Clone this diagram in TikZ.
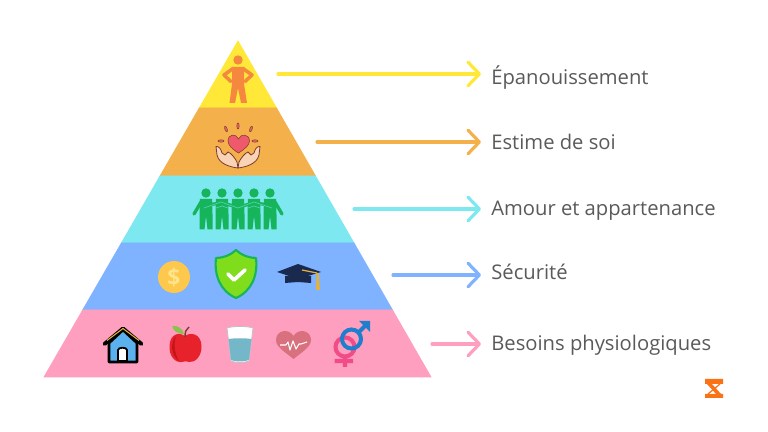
\documentclass[tikz,border=0pt]{standalone}
\usepackage{fontspec}
\setmainfont{Open Sans}
\usetikzlibrary{arrows.meta}
\definecolor{topyellow}{HTML}{FFE838}
\definecolor{esteemorange}{HTML}{F4B04A}
\definecolor{lovecyan}{HTML}{7DE8F0}
\definecolor{safeblue}{HTML}{7FB2FF}
\definecolor{needpink}{HTML}{FF9FC0}
\definecolor{labelgrey}{HTML}{5A5A5A}
\definecolor{manorange}{HTML}{F5873F}
\definecolor{heartred}{HTML}{EE5A6C}
\definecolor{skintone}{HTML}{F9D3B5}
\definecolor{outlinebrown}{HTML}{7A3B2E}
\definecolor{peoplegreen}{HTML}{16B55B}
\definecolor{coinyellow}{HTML}{FDC84B}
\definecolor{coinlight}{HTML}{FFE48A}
\definecolor{shieldgreen}{HTML}{7FDD1C}
\definecolor{capnavy}{HTML}{1A2A4F}
\definecolor{tasselgold}{HTML}{E3B23C}
\definecolor{roofblue}{HTML}{5BB0EE}
\definecolor{applered}{HTML}{E8222B}
\definecolor{applegreen}{HTML}{8CC152}
\definecolor{waterblue}{HTML}{74B7C9}
\definecolor{pulsered}{HTML}{D9707E}
\definecolor{femalepink}{HTML}{F24C88}
\definecolor{maleblue}{HTML}{1F7FCC}
\definecolor{brandorange}{HTML}{F97316}
\tikzset{
  levelarrow/.style={-{Straight Barb[length=6.5pt,width=13.5pt,round]}, line width=1.8pt, line cap=round, shorten >=5.7pt},
  levellabel/.style={anchor=base west, inner sep=0pt, text=labelgrey, font=\fontsize{11.5}{13}\selectfont},
  band/.style={draw=white, line width=0.4pt},
}
\begin{document}
\begin{tikzpicture}[x=0.02cm, y=-0.02cm]
\useasboundingbox (0,0) rectangle (768,432);
\fill[white] (0,0) rectangle (768,432);
% pyramid
\fill[band, topyellow] (238,41)--(276.5,108)--(199.3,108)--cycle;
\fill[band, esteemorange] (199.3,108)--(276.5,108)--(315.5,176)--(160,176)--cycle;
\fill[band, lovecyan] (160,176)--(315.5,176)--(354,243)--(121.4,243)--cycle;
\fill[band, safeblue] (121.4,243)--(354,243)--(392.5,310)--(82.7,310)--cycle;
\fill[band, needpink] (82.7,310)--(392.5,310)--(431,377)--(44,377)--cycle;
% labels and arrows
\node[levellabel] (epanouissement) at (491,85) {Épanouissement};
\node[levellabel] (estime) at (491,150) {Estime de soi};
\node[levellabel] (amour) at (491,215.5) {Amour et appartenance};
\node[levellabel] (securite) at (491,280) {Sécurité};
\node[levellabel] (besoins) at (491,351) {Besoins physiologiques};
\coordinate (startone) at (278,74);
\coordinate (starttwo) at (317,142);
\coordinate (startthree) at (354,209);
\coordinate (startfour) at (393,275);
\coordinate (startfive) at (432,344);
\draw[levelarrow, topyellow] (startone)--(startone -| epanouissement.west);
\draw[levelarrow, esteemorange] (starttwo)--(starttwo -| estime.west);
\draw[levelarrow, lovecyan] (startthree)--(startthree -| amour.west);
\draw[levelarrow, safeblue] (startfour)--(startfour -| securite.west);
\draw[levelarrow, needpink] (startfive)--(startfive -| besoins.west);
% standing man
\fill[manorange] (238,60) circle (4.7);
\fill[manorange] (232,67)--(244,67)--(244,84)--(247,103)--(241,103)--(238,88)--(235,103)--(229.5,103)--(232,84)--cycle;
\draw[manorange, line width=2pt, line cap=round, line join=round] (233,68.5)--(224,75)--(231,81.5) (243,68.5)--(252,75)--(245,81.5);
% hands and heart
\foreach \side in {-1,1}{
  \filldraw[fill=skintone, draw=outlinebrown, line width=0.45pt, line join=round, shift={(238,0)}, x=\side*0.02cm]
    (0,168) .. controls (-8,167) and (-19,164) .. (-21,155) -- (-22,146.5) .. controls (-19,146) and (-17,149) .. (-16,153)
    -- (-13,155) -- (-10,152) .. controls (-7,153) and (-3,158) .. (-1,162) -- (0,168) -- cycle;
}
\filldraw[fill=heartred, draw=outlinebrown, line width=0.3pt] (238.5,153) .. controls (232,149) and (228,145) .. (228,141) .. controls (228,134) and (236,133) .. (238.5,139) .. controls (241,133) and (249.5,134) .. (249.5,141) .. controls (249.5,145) and (245,149) .. (238.5,153)--cycle;
\foreach \rayx/\rayy/\rayangle in {226/129/-70, 238/126/90, 251/129/70, 221/141/0, 255/141/0}{
  \filldraw[fill=heartred!70!brown, draw=outlinebrown, line width=0.25pt, rotate around={\rayangle:(\rayx,\rayy)}] (\rayx,\rayy) ellipse (3 and 1.2);
}
% linked people
\foreach \headx in {206,222,238,254,270}{
  \fill[peoplegreen] (\headx,193) circle (4.7);
  \fill[peoplegreen] (\headx-6,199)--(\headx+6,199)--(\headx+6.5,214)--(\headx+6.5,229.5)--(\headx+1.5,229.5)--(\headx,216)--(\headx-1.5,229.5)--(\headx-6.5,229.5)--(\headx-6.5,214)--cycle;
}
\draw[peoplegreen, line width=1.9pt, line cap=round, line join=round] (194,214)--(201,202)--(206,205)--(222,203)--(238,207)--(254,203)--(270,205)--(275,202)--(282,214);
\draw[lovecyan!55!peoplegreen, line width=0.4pt] (204,208)--(221,202)--(238,208)--(254,202)--(272,208) (216,208)--(222,206)--(228,208) (248,208)--(254,206)--(260,208);
% coin
\fill[coinyellow] (174,277) circle (16);
\node[text=coinlight, font=\bfseries\fontsize{13}{13}\selectfont, inner sep=0pt] (dollar) at (174,277) {\$};
% shield
\filldraw[fill=shieldgreen, draw=peoplegreen, line width=1.2pt, line join=round] (236,250) .. controls (241,255) and (249,258) .. (256,258) .. controls (258,275) and (252,291) .. (236,298) .. controls (220,291) and (214,275) .. (216,258) .. controls (223,258) and (231,255) .. (236,250)--cycle;
\draw[white, line width=2.1pt, line cap=round, line join=round] (228,274)--(234,280)--(245,270);
% mortarboard
\fill[capnavy] (285,276)--(285,283)--(298,282)--(311,283)--(311,276)--cycle;
\fill[capnavy] (277,272)--(298,264)--(321,272)--(298,279)--cycle;
\draw[tasselgold, line width=0.7pt] (302,270)--(317,273);
\fill[tasselgold] (316.5,273)--(318.5,273)--(320,290)--(316,290)--cycle;
% house
\filldraw[fill=roofblue, draw=black, line width=1.5pt, line join=round] (109,343)--(109,362)--(137,362)--(137,343)--(123,330)--cycle;
\draw[black, line width=2.2pt, line cap=round, line join=round] (104.5,344)--(123,328.5)--(141.5,344);
\draw[tasselgold, line width=0.6pt] (107,340.5)--(123,328.5)--(139,340.5);
\filldraw[fill=white, draw=black, line width=1pt] (118,361)--(118,350) .. controls (118,347) and (127,347) .. (127,350)--(127,361)--cycle;
% apple
\fill[applered] (185,336) .. controls (190,332) and (201,333) .. (201.5,346) .. controls (202,356) and (195,363) .. (189,362) .. controls (187,361) and (184,361) .. (182,362) .. controls (175,363) and (169,356) .. (169.5,346) .. controls (170,333) and (180,332) .. (185,336)--cycle;
\fill[red!55!black, opacity=0.4] (176,336) .. controls (170,343) and (171,355) .. (179,361.5) .. controls (175,353) and (173,345) .. (176,336)--cycle;
\fill[applegreen] (172,326) .. controls (178,325) and (183,329) .. (184,334) .. controls (178,334) and (174,332) .. (172,326)--cycle;
\draw[outlinebrown, line width=0.8pt] (185,337) .. controls (185,332) and (186,329) .. (189,327);
% glass of water
\filldraw[fill=white, draw=gray!50, line width=0.4pt] (227,328) .. controls (233,326) and (247,326) .. (253,328)--(249,361) .. controls (244,363) and (235,363) .. (231,361)--cycle;
\fill[waterblue] (228.5,339) .. controls (235,338) and (245,338) .. (251.5,339)--(249,360) .. controls (244,362) and (235,362) .. (231,360)--cycle;
% heart with pulse
\fill[pulsered] (293.5,359) .. controls (285,352) and (276,347) .. (276,340) .. controls (276,330) and (289,328) .. (293.5,336) .. controls (298,328) and (311,330) .. (311,340) .. controls (311,347) and (302,352) .. (293.5,359)--cycle;
\draw[white, line width=0.6pt, line join=round] (280,345)--(286,345)--(288,342)--(290,350)--(293,341)--(296,349)--(299,344)--(301,344)--(307,342);
% gender symbols
\draw[femalepink, line width=2.3pt] (345,347) circle (9.5) (345,356.5)--(345,367) (334.5,361)--(353,361);
\draw[maleblue, line width=2.3pt] (351.5,339) circle (9.5) (358.5,332.5)--(368,323);
\fill[maleblue] (359,321)--(370,321)--(370,332)--cycle;
% logo
\fill[brandorange] (705,379)--(723,379)--(723,384)--(705,384)--cycle (705,394)--(723,394)--(723,398)--(705,398)--cycle;
\fill[brandorange] (707,384)--(712,384)--(721,394)--(716,394)--cycle;
\draw[brandorange, line width=0.7pt] (720,384)--(708,394);
\end{tikzpicture}
\end{document}
